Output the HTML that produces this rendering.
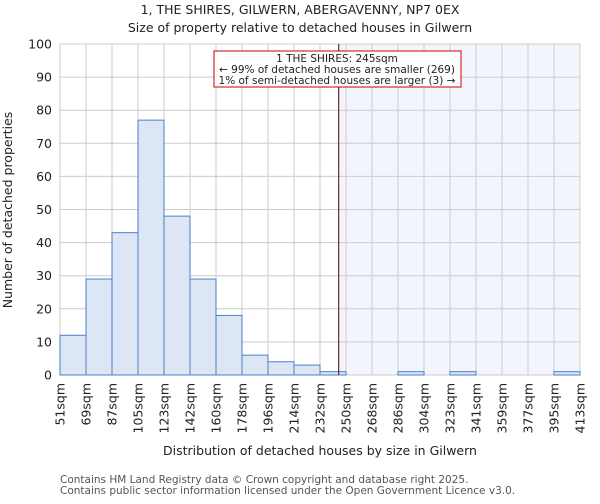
<!DOCTYPE html>
<html><head><meta charset="utf-8"><style>
body{margin:0;background:#fff;font-family:"DejaVu Sans","Liberation Sans",sans-serif;}
text{font-family:"DejaVu Sans","Liberation Sans",sans-serif;fill:#222;}
</style></head><body>
<svg id="chart" width="600" height="500" xmlns="http://www.w3.org/2000/svg">
<text x="300" y="14" text-anchor="middle" font-size="12.5">1, THE SHIRES, GILWERN, ABERGAVENNY, NP7 0EX</text>
<text x="300" y="32" text-anchor="middle" font-size="12.5">Size of property relative to detached houses in Gilwern</text>
<g id="plot"></g>
<text x="320" y="455" text-anchor="middle" font-size="12.5">Distribution of detached houses by size in Gilwern</text>
<text transform="translate(12,210) rotate(-90)" text-anchor="middle" font-size="12.5">Number of detached properties</text>
<text x="60" y="483" font-size="10.5" style="fill:#555">Contains HM Land Registry data © Crown copyright and database right 2025.</text>
<text x="60" y="494" font-size="10.5" style="fill:#555">Contains public sector information licensed under the Open Government Licence v3.0.</text>
</svg>
<script>
const labels=["51sqm","69sqm","87sqm","105sqm","123sqm","142sqm","160sqm","178sqm","196sqm","214sqm","232sqm","250sqm","268sqm","286sqm","304sqm","323sqm","341sqm","359sqm","377sqm","395sqm","413sqm"];
const counts=[12,29,43,77,48,29,18,6,4,3,1,0,0,1,0,1,0,0,0,1];
const yTicks=[0,10,20,30,40,50,60,70,80,90,100];
const propertyBinPos=[10.72];
const NS="http://www.w3.org/2000/svg";
const L=60,R=580,T=44,B=375;
const n=counts.length;
const x=i=>L+(R-L)*i/n;
const y=v=>B-(B-T)*v/100;
const g=document.getElementById('plot');
function mk(t,a){const e=document.createElementNS(NS,t);for(const k in a)e.setAttribute(k,a[k]);g.appendChild(e);return e;}
const px=x(propertyBinPos[0]);
let e=mk('rect',{x:px,y:T,width:R-px,height:B-T,fill:'#f3f5fd'});


yTicks.forEach(v=>{let l=mk('line',{x1:L,x2:R,y1:y(v),y2:y(v),stroke:'#ccc','stroke-width':1});


let t=mk('text',{x:L-8,y:y(v)+4.5,'text-anchor':'end','font-size':12.5});t.textContent=v;

});
labels.forEach((s,i)=>{let l=mk('line',{x1:x(i),x2:x(i),y1:T,y2:B,stroke:'#ccc','stroke-width':1});


let t=mk('text',{transform:`translate(${x(i)+4.5},${B+8}) rotate(-90)`,'text-anchor':'end','font-size':12.5});t.textContent=s;

});
counts.forEach((c,i)=>{if(c<=0)return;let r=mk('rect',{x:x(i),y:y(c),width:x(i+1)-x(i),height:B-y(c),fill:'#dce6f5',stroke:'#4a7fcc','stroke-width':1});

});
e=mk('line',{x1:px,x2:px,y1:T,y2:B,stroke:'#500010','stroke-width':1});


e=mk('rect',{x:214,y:51,width:247,height:36,fill:'#fff',stroke:'#cc0000','stroke-width':1});


["1 THE SHIRES: 245sqm","← 99% of detached houses are smaller (269)","1% of semi-detached houses are larger (3) →"].forEach((s,i)=>{let t=mk('text',{x:337,y:62+i*11,'text-anchor':'middle','font-size':10.5});t.textContent=s;

});
</script>
</body></html>
